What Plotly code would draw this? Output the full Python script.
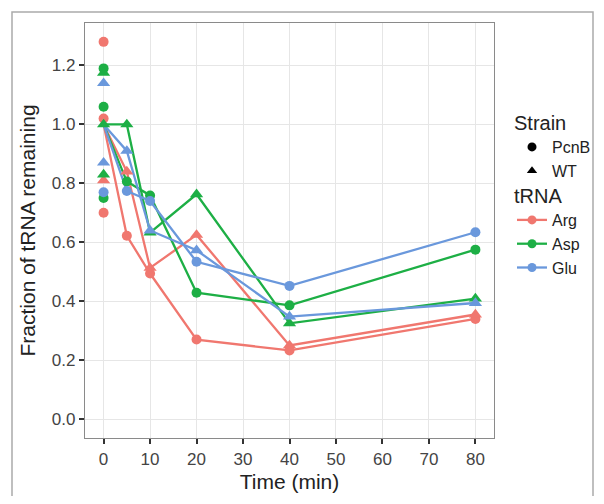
import plotly.graph_objects as go

times = [0, 5, 10, 20, 40, 80]
trnas = ["Arg", "Asp", "Glu"]
strains = ["PcnB", "WT"]
colors = {"Arg": "#F0776F", "Asp": "#1DAF45", "Glu": "#6A98DC"}
symbols = {"PcnB": "circle", "WT": "triangle-up"}
sizes = {"PcnB": 10, "WT": 11.5}

# mean fraction remaining per (tRNA, strain) at each time
arg_pcnb = [1.0, 0.622, 0.494, 0.270, 0.233, 0.340]
arg_wt = [1.0, 0.840, 0.513, 0.625, 0.250, 0.355]
asp_pcnb = [1.0, 0.806, 0.759, 0.429, 0.386, 0.575]
asp_wt = [1.0, 1.000, 0.633, 0.763, 0.325, 0.409]
glu_pcnb = [1.0, 0.774, 0.740, 0.534, 0.452, 0.634]
glu_wt = [1.0, 0.910, 0.640, 0.573, 0.348, 0.394]

# visible individual replicates at time 0
arg_pcnb_t0 = [1.28, 1.02, 0.70]
arg_wt_t0 = [0.81]
asp_pcnb_t0 = [1.19, 1.06, 0.75]
asp_wt_t0 = [1.175, 1.00, 0.83]
glu_pcnb_t0 = [0.77]
glu_wt_t0 = [1.14, 0.87]

series = [
    ("Arg", "PcnB", arg_pcnb, arg_pcnb_t0),
    ("Arg", "WT", arg_wt, arg_wt_t0),
    ("Asp", "PcnB", asp_pcnb, asp_pcnb_t0),
    ("Asp", "WT", asp_wt, asp_wt_t0),
    ("Glu", "PcnB", glu_pcnb, glu_pcnb_t0),
    ("Glu", "WT", glu_wt, glu_wt_t0),
]

fig = go.Figure()

for trna, strain, means, reps in series:
    fig.add_trace(go.Scatter(
        x=times, y=means, mode="lines",
        line=dict(color=colors[trna], width=2.3),
        showlegend=False, hoverinfo="skip"))

for trna, strain, means, reps in series:
    xs = [0] * len(reps) + times[1:]
    ys = reps + means[1:]
    fig.add_trace(go.Scatter(
        x=xs, y=ys, mode="markers",
        marker=dict(color=colors[trna], symbol=symbols[strain], size=sizes[strain],
                    line=dict(width=0)),
        showlegend=False))

# legend entries
for strain in strains:
    fig.add_trace(go.Scatter(
        x=[None], y=[None], mode="markers", name=strain,
        marker=dict(color="black", symbol=symbols[strain], size=9),
        legend="legend"))
for trna in trnas:
    fig.add_trace(go.Scatter(
        x=[None], y=[None], mode="lines+markers", name=trna,
        line=dict(color=colors[trna], width=2.3),
        marker=dict(color=colors[trna], symbol="circle", size=9),
        legend="legend2"))

# the page body adds an 8px offset; work in reference-pixel coordinates
OFF = 8
W, H = 604 - 2 * OFF, 504 - 2 * OFF
PL, PR, PT, PB = 85, 494, 23, 438   # panel edges in reference pixels
L, R = PL - OFF, W - (PR - OFF)
T, B = PT - OFF, H - (PB - OFF)
pw, ph = W - L - R, H - T - B

def px(xp):
    return (xp - OFF - L) / pw

def py(yp):
    return (H - B - (yp - OFF)) / ph

fig.update_layout(
    width=W, height=H,
    margin=dict(l=L, r=R, t=T, b=B, autoexpand=False),
    paper_bgcolor="white", plot_bgcolor="white",
    font=dict(family="Liberation Sans, Arial, sans-serif", color="#222"),
    xaxis=dict(
        range=[-4, 84], tickvals=[0, 10, 20, 30, 40, 50, 60, 70, 80],
        showgrid=True, gridcolor="#E6E6E6", gridwidth=1, zeroline=False,
        showline=True, mirror=True, linecolor="#8A8A8A", linewidth=1.2,
        ticks="outside", ticklen=5, tickwidth=1.5, tickcolor="#333",
        tickfont=dict(size=17, color="#444"),
        title=dict(text="Time (min)", font=dict(size=21, color="#222"), standoff=6),
    ),
    yaxis=dict(
        range=[-0.064, 1.344], tickvals=[0, 0.2, 0.4, 0.6, 0.8, 1.0, 1.2],
        tickformat=".1f",
        showgrid=True, gridcolor="#E6E6E6", gridwidth=1, zeroline=False,
        showline=True, mirror=True, linecolor="#8A8A8A", linewidth=1.2,
        ticks="outside", ticklen=5, tickwidth=1.5, tickcolor="#333",
        tickfont=dict(size=17, color="#444"),
        title=dict(text="Fraction of tRNA remaining", font=dict(size=21, color="#222"), standoff=10),
    ),
    legend=dict(
        title=dict(text="Strain", font=dict(size=20, color="#222")),
        x=px(512), y=py(104), xanchor="left", yanchor="top",
        font=dict(size=16, color="#222"), bgcolor="rgba(0,0,0,0)",
        itemwidth=30, tracegroupgap=0),
    legend2=dict(
        title=dict(text="tRNA", font=dict(size=20, color="#222")),
        x=px(512), y=py(177), xanchor="left", yanchor="top",
        font=dict(size=16, color="#222"), bgcolor="rgba(0,0,0,0)",
        itemwidth=30, tracegroupgap=0),
    shapes=[dict(type="rect", xref="paper", yref="paper",
                 x0=px(12), x1=px(593), y0=py(530), y1=py(12),
                 line=dict(color="#AAAAAA", width=1.5), layer="below")],
)

fig.write_html("out.html")
